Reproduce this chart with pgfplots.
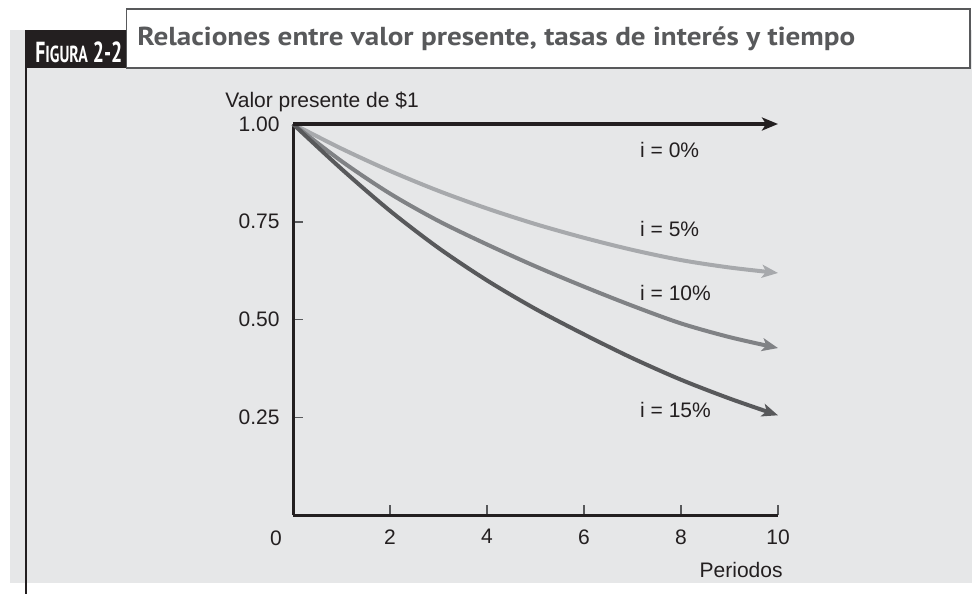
\documentclass[border=0pt]{standalone}
\usepackage{pgfplots}
\usepackage{pgfplotstable}
\pgfplotsset{compat=1.18}
\usetikzlibrary{arrows.meta}
\usepackage{fontspec}
\setmainfont{Liberation Sans}
\newfontfamily\headfont{PT Sans}
\definecolor{panel}{HTML}{E6E7E8}
\definecolor{tabc}{HTML}{231F20}
\definecolor{titc}{HTML}{58595B}
\definecolor{c0}{HTML}{231F20}
\definecolor{c5}{HTML}{A7A9AC}
\definecolor{c10}{HTML}{808285}
\definecolor{c15}{HTML}{58595B}

\pgfplotstableread{
x p0 p5 p10 p15
0 1 1.000 1.000 1.000
1 1 0.937 0.905 0.885
2 1 0.880 0.822 0.778
3 1 0.829 0.752 0.683
4 1 0.784 0.692 0.600
5 1 0.744 0.636 0.527
6 1 0.709 0.584 0.462
7 1 0.678 0.535 0.401
8 1 0.652 0.490 0.346
9 1 0.633 0.455 0.298
10 1 0.619 0.427 0.255
}\pvdata

\begin{document}
\fontsize{10.5}{12}\selectfont
\begin{tikzpicture}
\useasboundingbox (0,0) rectangle (486pt,-297pt);
\begin{scope}[x=0.5pt,y=-0.5pt]
  \fill[panel] (10,30) rectangle (972,583);
  \filldraw[fill=white, draw=titc, line width=0.6pt] (126.5,9) rectangle (970,68);
  \fill[tabc] (26,30) rectangle (126,68);
  \draw[tabc, line width=0.9pt] (26,30) -- (26,594);
  \node[anchor=base west, text=white, inner sep=0] at (35,62)
    {\scalebox{0.68}[1]{\headfont\bfseries\fontsize{14.5}{16}\selectfont F\fontsize{11.6}{13}\selectfont IGURA\fontsize{14.5}{16}\selectfont\ 2-2}};
  \node[anchor=base west, text=titc, inner sep=0] at (137,45)
    {\scalebox{1.12}[1]{\headfont\bfseries\fontsize{13}{14}\selectfont Relaciones entre valor presente, tasas de interés y tiempo}};
\end{scope}
\begin{axis}[
  at={(146.5pt,-257.5pt)}, anchor=south west,
  scale only axis, width=242.5pt, height=195.5pt,
  xmin=0, xmax=10, ymin=0, ymax=1,
  axis lines*=left,
  axis line style={line width=1.5pt, color=c0},
  clip=false,
  xtick={2,4,6,8,10}, xticklabels={2,4,6,8,10},
  ytick={0.25,0.5,0.75,1}, yticklabels={0.25,0.50,0.75,1.00},
  tick align=inside, major tick length=5pt,
  tick style={line width=0.75pt, color=titc},
  xticklabel style={yshift=-3.5pt, text=tabc},
  yticklabel style={xshift=-3pt, text=tabc},
  xlabel={Periodos},
  every axis x label/.style={at={(axis description cs:1,0)}, anchor=north east, inner sep=0, yshift=-23.5pt, xshift=2.5pt, text=tabc},
  ylabel={Valor presente de \$1},
  every axis y label/.style={at={(axis description cs:0,1)}, anchor=south west, inner sep=0, xshift=-34pt, yshift=6pt, text=tabc},
]
\addplot[c5, line width=2pt, smooth, -{Stealth[length=8pt,width=6.5pt,inset=2pt]}] table[x=x,y=p5] {\pvdata};
\addplot[c10, line width=2pt, smooth, -{Stealth[length=8pt,width=6.5pt,inset=2pt]}] table[x=x,y=p10] {\pvdata};
\addplot[c15, line width=2pt, smooth, -{Stealth[length=8pt,width=6.5pt,inset=2pt]}] table[x=x,y=p15] {\pvdata};
\addplot[c0, line width=2pt, -{Stealth[length=8pt,width=6.5pt,inset=2pt]}] table[x=x,y=p0] {\pvdata};
\node[anchor=west, inner sep=0, text=tabc] at (axis cs:7.15,0.933) {i = 0\%};
\node[anchor=west, inner sep=0, text=tabc] at (axis cs:7.15,0.731) {i = 5\%};
\node[anchor=west, inner sep=0, text=tabc] at (axis cs:7.15,0.568) {i = 10\%};
\node[anchor=west, inner sep=0, text=tabc] at (axis cs:7.15,0.269) {i = 15\%};
\node[text=tabc] at (axis cs:-0.35,-0.059) {0};
\end{axis}
\end{tikzpicture}
\end{document}
